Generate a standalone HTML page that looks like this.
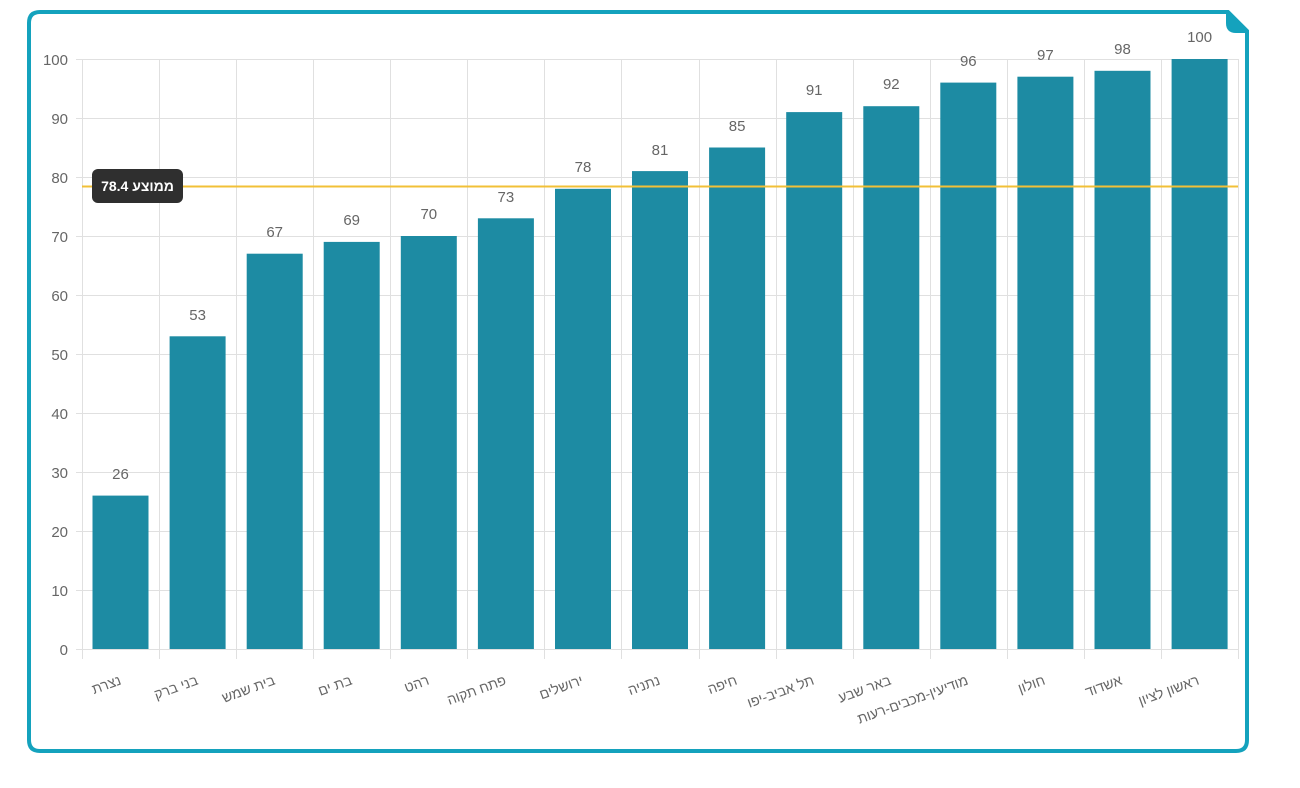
<!DOCTYPE html>
<html><head><meta charset="utf-8"><style>
html,body{margin:0;padding:0;background:#fff;}
svg{display:block;font-family:"Liberation Sans","Noto Sans CJK SC",sans-serif;}
</style></head><body>
<svg width="1300" height="788" viewBox="0 0 1300 788">
<path d="M40,12 H1228 L1247,31 V740 Q1247,751 1236,751 H40 Q29,751 29,740 V23 Q29,12 40,12 Z" fill="#fff" stroke="#14a2bd" stroke-width="4"/>
<path d="M1226,12 L1247,33 L1236,33 Q1226,33 1226,23 Z" fill="#14a2bd"/>
<g stroke="#e0e0e0" stroke-width="1">
<line x1="76" x2="1238" y1="59.5" y2="59.5"/>
<line x1="76" x2="1238" y1="118.5" y2="118.5"/>
<line x1="76" x2="1238" y1="177.5" y2="177.5"/>
<line x1="76" x2="1238" y1="236.5" y2="236.5"/>
<line x1="76" x2="1238" y1="295.5" y2="295.5"/>
<line x1="76" x2="1238" y1="354.5" y2="354.5"/>
<line x1="76" x2="1238" y1="413.5" y2="413.5"/>
<line x1="76" x2="1238" y1="472.5" y2="472.5"/>
<line x1="76" x2="1238" y1="531.5" y2="531.5"/>
<line x1="76" x2="1238" y1="590.5" y2="590.5"/>
<line x1="76" x2="1238" y1="649.5" y2="649.5"/>
<line x1="82.5" x2="82.5" y1="59" y2="659"/>
<line x1="159.5" x2="159.5" y1="59" y2="659"/>
<line x1="236.5" x2="236.5" y1="59" y2="659"/>
<line x1="313.5" x2="313.5" y1="59" y2="659"/>
<line x1="390.5" x2="390.5" y1="59" y2="659"/>
<line x1="467.5" x2="467.5" y1="59" y2="659"/>
<line x1="544.5" x2="544.5" y1="59" y2="659"/>
<line x1="621.5" x2="621.5" y1="59" y2="659"/>
<line x1="699.5" x2="699.5" y1="59" y2="659"/>
<line x1="776.5" x2="776.5" y1="59" y2="659"/>
<line x1="853.5" x2="853.5" y1="59" y2="659"/>
<line x1="930.5" x2="930.5" y1="59" y2="659"/>
<line x1="1007.5" x2="1007.5" y1="59" y2="659"/>
<line x1="1084.5" x2="1084.5" y1="59" y2="659"/>
<line x1="1161.5" x2="1161.5" y1="59" y2="659"/>
<line x1="1238.5" x2="1238.5" y1="59" y2="659"/>
</g>
<g fill="#1d8ba3">
<rect x="92.5" y="495.6" width="56" height="153.4"/>
<rect x="169.6" y="336.3" width="56" height="312.7"/>
<rect x="246.7" y="253.7" width="56" height="395.3"/>
<rect x="323.7" y="241.9" width="56" height="407.1"/>
<rect x="400.8" y="236" width="56" height="413"/>
<rect x="477.9" y="218.3" width="56" height="430.7"/>
<rect x="555" y="188.8" width="56" height="460.2"/>
<rect x="632" y="171.1" width="56" height="477.9"/>
<rect x="709.1" y="147.5" width="56" height="501.5"/>
<rect x="786.2" y="112.1" width="56" height="536.9"/>
<rect x="863.3" y="106.2" width="56" height="542.8"/>
<rect x="940.3" y="82.6" width="56" height="566.4"/>
<rect x="1017.4" y="76.7" width="56" height="572.3"/>
<rect x="1094.5" y="70.8" width="56" height="578.2"/>
<rect x="1171.6" y="59" width="56" height="590"/>
</g>
<g fill="#666" font-size="15" text-anchor="middle">
<text x="120.5" y="479">26</text>
<text x="197.6" y="320">53</text>
<text x="274.7" y="237">67</text>
<text x="351.7" y="225">69</text>
<text x="428.8" y="219">70</text>
<text x="505.9" y="202">73</text>
<text x="583" y="172">78</text>
<text x="660" y="155">81</text>
<text x="737.1" y="131">85</text>
<text x="814.2" y="95">91</text>
<text x="891.3" y="89">92</text>
<text x="968.3" y="66">96</text>
<text x="1045.4" y="60">97</text>
<text x="1122.5" y="54">98</text>
<text x="1199.6" y="42">100</text>
</g>
<g fill="#666" font-size="14" text-anchor="end">
<text x="122" y="684" transform="rotate(-20 122 684)">נצרת</text>
<text x="199" y="684" transform="rotate(-20 199 684)">בני ברק</text>
<text x="276" y="684" transform="rotate(-20 276 684)">בית שמש</text>
<text x="353" y="684" transform="rotate(-20 353 684)">בת ים</text>
<text x="430" y="684" transform="rotate(-20 430 684)">רהט</text>
<text x="507" y="684" transform="rotate(-20 507 684)">פתח תקוה</text>
<text x="584" y="684" transform="rotate(-20 584 684)">ירושלים</text>
<text x="661" y="684" transform="rotate(-20 661 684)">נתניה</text>
<text x="738" y="684" transform="rotate(-20 738 684)">חיפה</text>
<text x="815" y="684" transform="rotate(-20 815 684)">תל אביב-יפו</text>
<text x="892" y="684" transform="rotate(-20 892 684)">באר שבע</text>
<text x="969" y="684" transform="rotate(-20 969 684)">מודיעין-מכבים-רעות</text>
<text x="1046" y="684" transform="rotate(-20 1046 684)">חולון</text>
<text x="1123" y="684" transform="rotate(-20 1123 684)">אשדוד</text>
<text x="1200" y="684" transform="rotate(-20 1200 684)">ראשון לציון</text>
</g>
<g fill="#666" font-size="15" text-anchor="end">
<text x="68" y="65">100</text><text x="68" y="124">90</text><text x="68" y="183">80</text>
<text x="68" y="242">70</text><text x="68" y="301">60</text><text x="68" y="360">50</text>
<text x="68" y="419">40</text><text x="68" y="478">30</text><text x="68" y="537">20</text>
<text x="68" y="596">10</text><text x="68" y="655">0</text>
</g>
<line x1="82" x2="1238" y1="186.5" y2="186.5" stroke="#f2c037" stroke-width="2"/>
<rect x="92" y="169" width="91" height="34" rx="6" fill="#2f2f2f"/>
<text x="137.5" y="191" fill="#fff" font-size="14" font-weight="bold" text-anchor="middle">78.4 ממוצע</text>
</svg>
</body></html>
